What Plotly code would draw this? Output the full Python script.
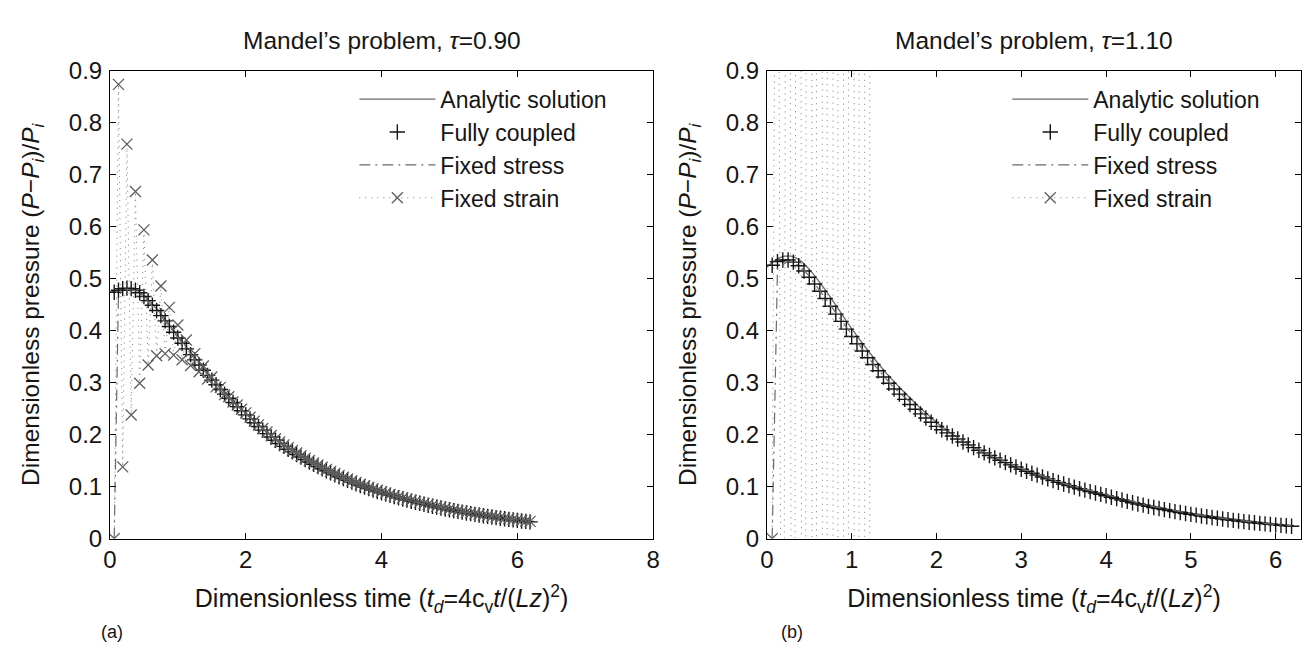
import plotly.graph_objects as go

# ---------------- data ----------------
TIME = [0.0625, 0.125, 0.1875, 0.25, 0.3125, 0.375, 0.4375, 0.5, 0.5625, 0.625,
        0.6875, 0.75, 0.8125, 0.875, 0.9375, 1.0, 1.0625, 1.125, 1.1875, 1.25,
        1.3125, 1.375, 1.4375, 1.5, 1.5625, 1.625, 1.6875, 1.75, 1.8125, 1.875,
        1.9375, 2.0, 2.0625, 2.125, 2.1875, 2.25, 2.3125, 2.375, 2.4375, 2.5,
        2.5625, 2.625, 2.6875, 2.75, 2.8125, 2.875, 2.9375, 3.0, 3.0625, 3.125,
        3.1875, 3.25, 3.3125, 3.375, 3.4375, 3.5, 3.5625, 3.625, 3.6875, 3.75,
        3.8125, 3.875, 3.9375, 4.0, 4.0625, 4.125, 4.1875, 4.25, 4.3125, 4.375,
        4.4375, 4.5, 4.5625, 4.625, 4.6875, 4.75, 4.8125, 4.875, 4.9375, 5.0,
        5.0625, 5.125, 5.1875, 5.25, 5.3125, 5.375, 5.4375, 5.5, 5.5625, 5.625,
        5.6875, 5.75, 5.8125, 5.875, 5.9375, 6.0, 6.0625, 6.125, 6.1875]

# ---- panel (a): tau = 0.90 ----
A_ANALYTIC_T = [0, 0.1, 0.2, 0.3, 0.4, 0.5, 0.6, 0.7, 0.8, 0.9, 1.0, 1.2, 1.4, 1.6,
                1.8, 2.0, 2.25, 2.5, 2.75, 3.0, 3.5, 4.0, 4.5, 5.0, 5.5, 6.0, 6.2]
A_ANALYTIC_P = [0.474, 0.477, 0.480, 0.481, 0.477, 0.468, 0.455, 0.440, 0.424, 0.407,
                0.390, 0.357, 0.325, 0.295, 0.267, 0.241, 0.212, 0.186, 0.164, 0.145,
                0.113, 0.089, 0.070, 0.056, 0.044, 0.035, 0.032]

A_COUPLED = [0.474, 0.478, 0.481, 0.482, 0.481, 0.478, 0.473, 0.466, 0.458, 0.449,
             0.439, 0.429, 0.419, 0.408, 0.397, 0.386, 0.376, 0.365, 0.354, 0.344,
             0.334, 0.324, 0.314, 0.305, 0.296, 0.287, 0.278, 0.270, 0.262, 0.254,
             0.246, 0.238, 0.2303, 0.2229, 0.2157, 0.2087, 0.2020, 0.1955, 0.1892, 0.1830,
             0.1774, 0.1720, 0.1668, 0.1618, 0.1569, 0.1521, 0.1475, 0.1430, 0.1387, 0.1345,
             0.1305, 0.1265, 0.1227, 0.1190, 0.1155, 0.1120, 0.1087, 0.1054, 0.1023, 0.0993,
             0.0963, 0.0935, 0.0907, 0.0880, 0.0855, 0.0831, 0.0808, 0.0785, 0.0763, 0.0741,
             0.0720, 0.0700, 0.0680, 0.0661, 0.0642, 0.0623, 0.0606, 0.0588, 0.0571, 0.0555,
             0.0539, 0.0524, 0.0509, 0.0494, 0.0480, 0.0466, 0.0453, 0.0440, 0.0428, 0.0416,
             0.0404, 0.0393, 0.0381, 0.0371, 0.0360, 0.0350, 0.0340, 0.0331, 0.0322]

A_STRESS_T = [0.0625, 0.125, 0.25, 0.375, 0.5, 0.75, 1.0, 1.25, 1.5, 2.0, 2.5, 3.0,
              3.5, 4.0, 4.5, 5.0, 5.5, 6.0, 6.1875]
A_STRESS_P = [0, 0.470, 0.480, 0.477, 0.465, 0.428, 0.387, 0.345, 0.306, 0.239, 0.184,
              0.144, 0.113, 0.089, 0.0705, 0.056, 0.0445, 0.0355, 0.0325]

A_STRAIN = [0, 0.874, 0.138, 0.759, 0.238, 0.668, 0.299, 0.594, 0.334, 0.536,
            0.352, 0.486, 0.356, 0.445, 0.353, 0.411, 0.344, 0.382, 0.333, 0.356,
            0.321, 0.332, 0.307, 0.311, 0.292, 0.291, 0.277, 0.273, 0.263, 0.257,
            0.249, 0.242, 0.2335, 0.2260, 0.2188, 0.2118, 0.2050, 0.1985, 0.1921, 0.1859,
            0.1803, 0.1749, 0.1697, 0.1646, 0.1597, 0.1549, 0.1503, 0.1458, 0.1415, 0.1373,
            0.1332, 0.1292, 0.1254, 0.1217, 0.1181, 0.1146, 0.1112, 0.1079, 0.1047, 0.1016,
            0.0986, 0.0957, 0.0929, 0.0902, 0.0876, 0.0851, 0.0827, 0.0804, 0.0781, 0.0759,
            0.0738, 0.0717, 0.0697, 0.0677, 0.0658, 0.0639, 0.0621, 0.0603, 0.0586, 0.0569,
            0.0553, 0.0537, 0.0522, 0.0507, 0.0492, 0.0478, 0.0465, 0.0452, 0.0439, 0.0427,
            0.0415, 0.0403, 0.0392, 0.0381, 0.0370, 0.0360, 0.0350, 0.0340, 0.0331]

# ---- panel (b): tau = 1.10 ----
B_ANALYTIC_T = [0, 0.1, 0.2, 0.3, 0.4, 0.5, 0.6, 0.7, 0.8, 0.9, 1.0, 1.2, 1.4, 1.6,
                1.8, 2.0, 2.25, 2.5, 2.75, 3.0, 3.5, 4.0, 4.5, 5.0, 5.5, 6.0, 6.2]
B_ANALYTIC_P = [0.522, 0.536, 0.543, 0.543, 0.534, 0.518, 0.498, 0.476, 0.452, 0.428,
                0.404, 0.360, 0.320, 0.285, 0.253, 0.224, 0.194, 0.170, 0.150, 0.1325,
                0.104, 0.0825, 0.064, 0.049, 0.038, 0.0285, 0.0255]

B_COUPLED = [0.526, 0.533, 0.536, 0.536, 0.532, 0.525, 0.515, 0.503, 0.490, 0.476,
             0.462, 0.447, 0.432, 0.418, 0.403, 0.389, 0.375, 0.361, 0.348, 0.335,
             0.323, 0.311, 0.299, 0.288, 0.278, 0.268, 0.258, 0.249, 0.240, 0.232,
             0.224, 0.216, 0.2096, 0.2034, 0.1974, 0.1916, 0.1859, 0.1804, 0.1751, 0.1699,
             0.1649, 0.1600, 0.1553, 0.1507, 0.1462, 0.1419, 0.1377, 0.1336, 0.1297, 0.1258,
             0.1221, 0.1185, 0.1150, 0.1116, 0.1083, 0.1051, 0.1020, 0.0990, 0.0960, 0.0932,
             0.0904, 0.0878, 0.0852, 0.0826, 0.0797, 0.0769, 0.0742, 0.0716, 0.0691, 0.0667,
             0.0644, 0.0621, 0.0599, 0.0578, 0.0558, 0.0539, 0.0520, 0.0502, 0.0484, 0.0467,
             0.0451, 0.0435, 0.0420, 0.0405, 0.0391, 0.0377, 0.0364, 0.0351, 0.0339, 0.0327,
             0.0316, 0.0305, 0.0294, 0.0284, 0.0274, 0.0264, 0.0255, 0.0246, 0.0237]

B_STRESS_T = [0.0625, 0.125, 0.25, 0.375, 0.5, 0.75, 1.0, 1.25, 1.5, 2.0, 2.5, 3.0,
              3.5, 4.0, 4.5, 5.0, 5.5, 6.0, 6.1875]
B_STRESS_P = [0, 0.520, 0.534, 0.526, 0.505, 0.449, 0.391, 0.337, 0.290, 0.218, 0.171,
              0.135, 0.106, 0.084, 0.0635, 0.048, 0.036, 0.027, 0.0245]

# fixed strain diverges (oscillates off the chart) and stops after t = 1.25
B_STRAIN = [0, 2.1, -1.6, 3.9, -3.2, 6.8, -6.1, 12.0, -11.5, 21.0,
            -21.5, 37.0, -40.0, 65.0, -74.0, 115.0, -137.0, 205.0, -255.0, 365.0]

LEGEND_NAMES = ["Analytic solution", "Fully coupled", "Fixed stress", "Fixed strain"]
TITLES = ["Mandel\u2019s problem, <i>\u03c4</i>=0.90", "Mandel\u2019s problem, <i>\u03c4</i>=1.10"]
PANEL_TAGS = ["(a)", "(b)"]
X_TITLE = "Dimensionless time (<i>t<sub>d</sub></i>=4c<sub>v</sub><i>t</i>/(<i>Lz</i>)<sup>2</sup>)"
Y_TITLE = "Dimensionless pressure (<i>P</i>\u2212<i>P<sub>i</sub></i>)/<i>P<sub>i</sub></i>"

# ---------------- styling ----------------
FONT = "Liberation Sans, Arial, Helvetica, sans-serif"
INK = "#151515"
GRAY_LINE = "#6a6a6a"
GRAY_DOT = "#7c7c7c"
GRAY_MK = "#5e5e5e"
DOT = "1px,5px"
DASHDOT = "11px,5px,2px,5px"

fig = go.Figure()

panels = [
    ("x", "y", "legend", A_ANALYTIC_T, A_ANALYTIC_P, A_COUPLED, A_STRESS_T, A_STRESS_P, A_STRAIN),
    ("x2", "y2", "legend2", B_ANALYTIC_T, B_ANALYTIC_P, B_COUPLED, B_STRESS_T, B_STRESS_P, B_STRAIN),
]

for xa, ya, lg, at, ap, cp, st, sp, sn in panels:
    fig.add_trace(go.Scatter(x=at, y=ap, mode="lines", name=LEGEND_NAMES[0],
                             line=dict(color=GRAY_LINE, width=1.3, shape="spline"),
                             xaxis=xa, yaxis=ya, legend=lg))
    fig.add_trace(go.Scatter(x=TIME[:len(cp)], y=cp, mode="markers", name=LEGEND_NAMES[1],
                             marker=dict(symbol="cross-thin", size=11,
                                         line=dict(color=INK, width=1.4)),
                             xaxis=xa, yaxis=ya, legend=lg))
    fig.add_trace(go.Scatter(x=st, y=sp, mode="lines", name=LEGEND_NAMES[2],
                             line=dict(color=GRAY_LINE, width=1.2, dash=DASHDOT),
                             xaxis=xa, yaxis=ya, legend=lg))
    fig.add_trace(go.Scatter(x=TIME[:len(sn)], y=sn, mode="lines+markers", name=LEGEND_NAMES[3],
                             line=dict(color=GRAY_DOT, width=1.0, dash=DOT),
                             marker=dict(symbol="x-thin", size=11,
                                         line=dict(color=GRAY_MK, width=1.3)),
                             xaxis=xa, yaxis=ya, legend=lg))

W, H = 1310, 650
def px_x(p):
    return p / W
def px_y(p):
    return 1 - p / H

axis_common = dict(showline=True, linecolor="black", linewidth=1, mirror="ticks",
                   ticks="inside", ticklen=6, tickwidth=1, tickcolor="black",
                   showgrid=False, zeroline=False,
                   tickfont=dict(family=FONT, size=24, color=INK))

xt = dict(text=X_TITLE, standoff=17, font=dict(family=FONT, size=25, color=INK))
yt = dict(text=Y_TITLE, standoff=22, font=dict(family=FONT, size=24.5, color=INK))

ydom = [px_y(539), px_y(51)]
fig.update_layout(
    width=W, height=H,
    margin=dict(l=0, r=0, t=0, b=0),
    paper_bgcolor="white", plot_bgcolor="white",
    font=dict(family=FONT, size=24, color=INK),
    xaxis=dict(domain=[px_x(96), px_x(645)], range=[0, 8], dtick=2, anchor="y",
               title=xt, **axis_common),
    yaxis=dict(domain=ydom, range=[0, 0.9], dtick=0.1, anchor="x", ticklabelstandoff=2,
               title=yt, **axis_common),
    xaxis2=dict(domain=[px_x(760), px_x(1300)], range=[0, 6.3], dtick=1, anchor="y2",
                title=xt, **axis_common),
    yaxis2=dict(domain=ydom, range=[0, 0.9], dtick=0.1, anchor="x2", ticklabelstandoff=2,
                title=yt, **axis_common),
    legend=dict(x=px_x(343), y=px_y(58), xanchor="left", yanchor="top",
                bgcolor="rgba(0,0,0,0)", itemwidth=76, tracegroupgap=0,
                font=dict(family=FONT, size=23, color=INK)),
    legend2=dict(x=px_x(1003), y=px_y(58), xanchor="left", yanchor="top",
                 bgcolor="rgba(0,0,0,0)", itemwidth=76, tracegroupgap=0,
                 font=dict(family=FONT, size=23, color=INK)),
    showlegend=True,
)

annotations = []
for i, (cx, tag_x) in enumerate([((96 + 645) / 2, 98), ((760 + 1300) / 2, 785)]):
    annotations.append(dict(text=TITLES[i], x=px_x(cx), y=px_y(19), xref="paper", yref="paper",
                            xanchor="center", yanchor="middle", showarrow=False,
                            font=dict(family=FONT, size=24.5, color=INK)))
    annotations.append(dict(text=PANEL_TAGS[i], x=px_x(tag_x), y=px_y(636), xref="paper", yref="paper",
                            xanchor="center", yanchor="middle", showarrow=False,
                            font=dict(family=FONT, size=18, color=INK)))
fig.update_layout(annotations=annotations)

fig.write_html("out.html")
